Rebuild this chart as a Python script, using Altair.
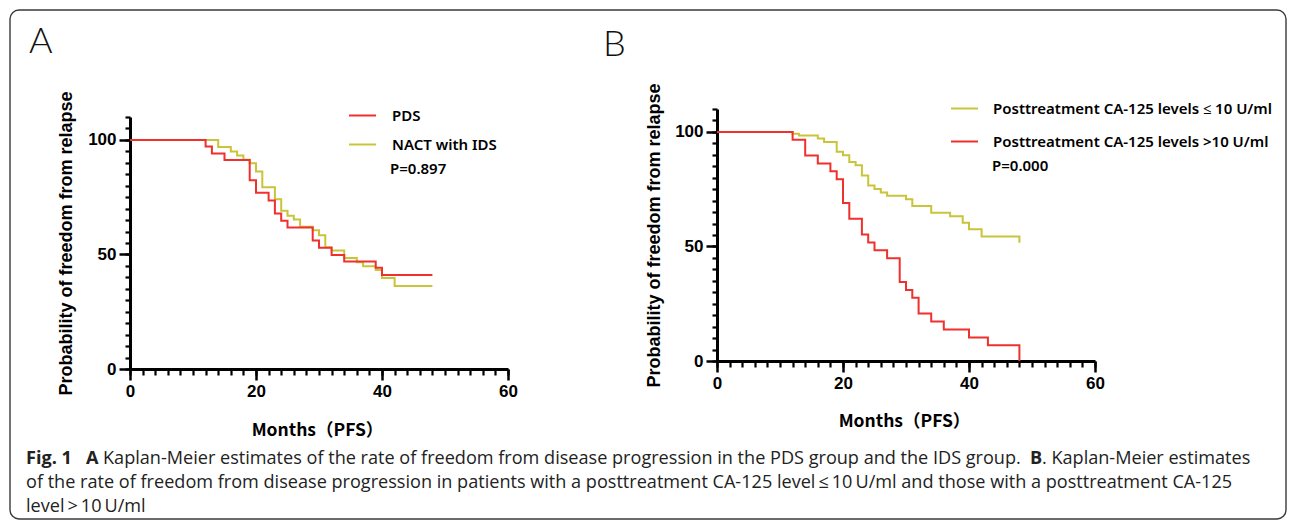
import altair as alt
import pandas as pd

# ---------------- data ----------------
A_PDS_MONTHS = [0, 12, 13, 15, 19, 20, 22, 23, 24, 25, 29, 30, 32, 34, 39, 40, 48]
A_PDS_SURV = [100, 97.1, 94.1, 91.2, 82.4, 76.9, 73.5, 67.9, 64.7, 61.8, 56.1, 52.9, 49.8, 46.9, 44.2, 41.0, 41.0]

A_IDS_MONTHS = [0, 14, 16, 17, 18, 19, 20, 21, 23, 24, 25, 26, 27, 29, 30, 31, 32, 34, 36, 37, 39, 40, 42, 48]
A_IDS_SURV = [100, 96.9, 94.9, 93.2, 91.3, 89.8, 86.2, 79.3, 74.1, 69.1, 66.9, 65.3, 62.1, 60.6, 58.4, 53.1,
              51.7, 48.4, 46.6, 44.8, 43.2, 39.7, 36.2, 36.2]

B_LOW_MONTHS = [0, 12, 13, 16, 17, 19, 20, 21, 22, 23, 24, 25, 26, 27, 30, 31, 34, 37, 39, 40, 42, 48]
B_LOW_SURV = [100, 99.2, 98.4, 97.1, 95.6, 91.3, 89.8, 86.9, 85.5, 81.0, 76.6, 75.1, 73.6, 72.1, 70.6, 67.7,
              64.7, 63.2, 60.3, 57.5, 54.3, 51.6]

B_HIGH_MONTHS = [0, 12, 14, 16, 18, 19, 20, 21, 23, 24, 25, 27, 29, 30, 31, 32, 34, 36, 40, 43, 48]
B_HIGH_SURV = [100, 96.6, 89.7, 86.2, 82.8, 79.3, 69.0, 62.1, 55.2, 51.7, 48.3, 44.8, 34.5, 31.0, 27.6, 20.7,
               17.2, 13.8, 10.3, 6.9, 0]

A_GROUPS = ["PDS", "NACT with IDS"]
B_GROUPS = ["Posttreatment CA-125 levels \u2264 10 U/ml", "Posttreatment CA-125 levels >10 U/ml"]
A_P = "P=0.897"
B_P = "P=0.000"

X_MINOR = list(range(0, 61, 2))
X_MAJOR = [0, 20, 40, 60]
Y_MINOR = list(range(0, 111, 5))
Y_MAJOR = [0, 50, 100]

X_TITLE = "Months\uff08PFS\uff09"
Y_TITLE = "Probability of freedom from relapse"

CAP1_FIG = "Fig. 1"
CAP1_A = "A"
CAP1_TEXT = "Kaplan-Meier estimates of the rate of freedom from disease progression in the PDS group and the IDS group."
CAP1_B = "B"
CAP1_END = ". Kaplan-Meier estimates"
CAP2 = ("of the rate of freedom from disease progression in patients with a posttreatment CA-125 level\u2009\u2264\u200910\u2009U/ml "
        "and those with a posttreatment CA-125")
CAP3 = "level\u2009>\u200910\u2009U/ml"

RED = "#f0302c"
YEL = "#c9c43a"

AX_FONT = "Liberation Sans"
LEG_FONT = "Noto Sans"
CAP_FONT = "Open Sans"
CAP_SIZE = 18.1


def km(months, surv, name):
    return pd.DataFrame({"month": months, "surv": surv, "group": name})


ONE = pd.DataFrame({"k": [0]})


def txt(s, x, y, size, weight="normal", font=CAP_FONT, color="#222222", baseline="middle"):
    return alt.Chart(ONE).mark_text(
        align="left", baseline=baseline, font=font, fontSize=size, fontWeight=weight, color=color
    ).encode(x=alt.value(x), y=alt.value(y), text=alt.value(s))


def panel(yellow_df, red_df, domain, colors, height, yrange, legx, legy, rowpad, laboff,
          ytitle_x, ytitle_y, xtitle_y, extras):
    xs = alt.Scale(domain=[0, 60], nice=False)
    ys = alt.Scale(domain=[0, 110], nice=False, range=yrange)
    legend = alt.Legend(orient="none", legendX=legx, legendY=legy, title=None, symbolType="stroke",
                        symbolSize=729, symbolStrokeWidth=2, labelFont=LEG_FONT, labelFontSize=15,
                        labelFontWeight=600, labelColor="black", labelOffset=laboff, rowPadding=rowpad,
                        padding=0, labelLimit=500)
    color = alt.Color("group:N", scale=alt.Scale(domain=domain, range=colors), legend=legend)

    x_minor = alt.X("month:Q", scale=xs, axis=alt.Axis(
        orient="bottom", values=X_MINOR, tickSize=6, tickWidth=2.2, tickColor="black",
        labels=False, domain=True, domainWidth=3, domainColor="black", grid=False, title=None))
    y_minor = alt.Y("surv:Q", scale=ys, axis=alt.Axis(
        orient="left", values=Y_MINOR, tickSize=5, tickWidth=2.2, tickColor="black",
        labels=False, domain=True, domainWidth=3, domainColor="black", grid=False, title=None))
    x_major = alt.X("month:Q", scale=xs, axis=alt.Axis(
        orient="bottom", values=X_MAJOR, tickSize=11, tickWidth=2.5, tickColor="black",
        labels=True, labelFont=AX_FONT, labelFontSize=17, labelFontWeight="bold", labelColor="black",
        labelPadding=3, labelFlush=False, domain=False, grid=False,
        title=X_TITLE, titleFont="Noto Sans CJK SC", titleFontSize=17.5, titleFontWeight="bold",
        titleColor="black", titleX=187, titleY=xtitle_y, titleBaseline="middle", titleAlign="center"))
    y_major = alt.Y("surv:Q", scale=ys, axis=alt.Axis(
        orient="left", values=Y_MAJOR, tickSize=11, tickWidth=2.5, tickColor="black",
        labels=True, labelFont=AX_FONT, labelFontSize=17, labelFontWeight="bold", labelColor="black",
        labelPadding=3, labelFlush=False, domain=False, grid=False,
        title=Y_TITLE, titleFont=AX_FONT, titleFontSize=18, titleFontWeight="bold",
        titleColor="black", titleX=ytitle_x, titleY=ytitle_y, titleBaseline="middle", titleAlign="center",
        titleAngle=270))

    yl = alt.Chart(yellow_df).mark_line(interpolate="step-after", strokeWidth=2).encode(
        x=x_minor, y=y_minor, color=color)
    rl = alt.Chart(red_df).mark_line(interpolate="step-after", strokeWidth=2).encode(
        x=x_major, y=y_major, color=color)
    return alt.layer(yl, rl, *extras).resolve_axis(x="independent", y="independent").properties(
        width=378, height=height)


# ---------------- panel A (plot origin at page 130,109) ----------------
a_extras = [
    alt.Chart(ONE).mark_rect(filled=False, stroke="#3a3a3a", strokeWidth=1.4, cornerRadius=9).encode(
        x=alt.value(-120), x2=alt.value(1156), y=alt.value(-99), y2=alt.value(410)),
    txt("A", -101, -56, 36, weight=300, font="Lato", color="#111111", baseline="alphabetic"),
    txt(A_P, 260, 60, 15, weight=600, font=LEG_FONT, color="black"),
    txt(CAP1_FIG, -104, 350, CAP_SIZE, weight="bold"),
    txt(CAP1_A, -44, 350, CAP_SIZE, weight="bold"),
    txt(CAP1_TEXT, -27, 350, CAP_SIZE),
    txt(CAP1_B, 900, 350, CAP_SIZE, weight="bold"),
    txt(CAP1_END, 912, 350, CAP_SIZE),
    txt(CAP2, -104, 374, CAP_SIZE),
    txt(CAP3, -104, 398, CAP_SIZE),
]
panelA = panel(
    km(A_IDS_MONTHS, A_IDS_SURV, A_GROUPS[1]), km(A_PDS_MONTHS, A_PDS_SURV, A_GROUPS[0]),
    A_GROUPS, [RED, YEL], 260, [260, 8], 218, -8, 6, 15, -64, 134, 61, a_extras)

# ---------------- panel B (plot origin at page 717,109) ----------------
b_extras = [
    txt("B", -114, -53, 36, weight=300, font="Lato", color="#111111", baseline="alphabetic"),
    txt(B_P, 275, 57, 15, weight=600, font=LEG_FONT, color="black"),
]
panelB = panel(
    km(B_LOW_MONTHS, B_LOW_SURV, B_GROUPS[0]), km(B_HIGH_MONTHS, B_HIGH_SURV, B_GROUPS[1]),
    B_GROUPS, [YEL, RED], 252, [252, 0], 233, -15, 10, 14, -63, 126, 60, b_extras)

chart = alt.hconcat(panelA, panelB, spacing=209, bounds="flush").resolve_scale(
    color="independent").resolve_legend(color="independent").properties(
    padding={"left": 1, "top": 1, "right": 0, "bottom": 0}, background="white"
).configure_view(strokeWidth=0)

chart.save("out.html", embed_options={"renderer": "svg", "actions": False})
